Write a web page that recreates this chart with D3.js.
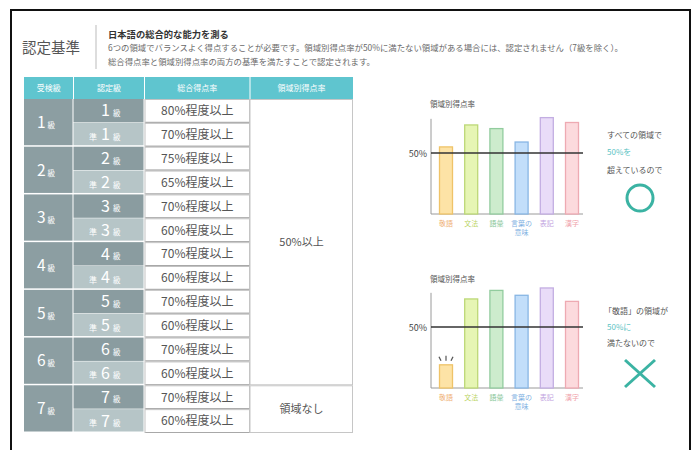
<!DOCTYPE html>
<html><head><meta charset="utf-8">
<script src="https://cdn.jsdelivr.net/npm/d3@7"></script>
<style>body{margin:0;background:#fff;} svg{display:block;font-family:"Noto Sans CJK JP","Noto Sans",sans-serif;}</style>
</head><body><svg id="c" width="698" height="450"></svg>
<script>
// ---- data ----
const headerLabels = ["受検級", "認定級", "総合得点率", "領域別得点率"];
const examGrades = ["1", "2", "3", "4", "5", "6", "7"];
const certPrefixes = ["", "準", "", "準", "", "準", "", "準", "", "準", "", "準", "", "準"];
const certNumbers = ["1", "1", "2", "2", "3", "3", "4", "4", "5", "5", "6", "6", "7", "7"];
const totalRates = ["80%程度以上", "70%程度以上", "75%程度以上", "65%程度以上", "70%程度以上", "60%程度以上",
  "70%程度以上", "60%程度以上", "70%程度以上", "60%程度以上", "70%程度以上", "60%程度以上", "70%程度以上", "60%程度以上"];
const domainRates = ["50%以上", "領域なし"];
const domainRateSpans = [[0, 12], [12, 14]];
const domains = ["敬語", "文法", "語彙", "言葉の意味", "表記", "漢字"];
const passScores = [55, 73, 70, 59, 79, 75];
const failScores = [19, 73, 80, 76, 82, 71];
const threshold = 50;

const svg = d3.select("#c");

// outer frame
svg.append("path").attr("d", "M11,452 V10 H690 V452").attr("fill", "none").attr("stroke", "#111").attr("stroke-width", 2);

// heading
svg.append("text").attr("x", 22).attr("y", 53).attr("font-size", 14.5).attr("fill", "#555").text("認定基準");
svg.append("line").attr("x1", 96).attr("x2", 96).attr("y1", 25).attr("y2", 69).attr("stroke", "#bbb").attr("stroke-width", 1);
svg.append("text").attr("x", 108).attr("y", 37.5).attr("font-size", 9.3).attr("font-weight", "bold").attr("fill", "#333").text("日本語の総合的な能力を測る");
svg.append("text").attr("x", 108).attr("y", 50.5).attr("font-size", 8.4).attr("fill", "#6a6a6a")
  .text("6つの領域でバランスよく得点することが必要です。領域別得点率が50%に満たない領域がある場合には、認定されません（7級を除く）。");
svg.append("text").attr("x", 108).attr("y", 65).attr("font-size", 8.4).attr("fill", "#6a6a6a")
  .text("総合得点率と領域別得点率の両方の基準を満たすことで認定されます。");

// ---- table ----
const colX = [24, 73.5, 144.5, 250, 353];
const rowY = d3.scaleBand().domain(d3.range(certNumbers.length)).range([99, 433]);
const rh = rowY.bandwidth();
const tbl = svg.append("g");

// header
tbl.append("rect").attr("x", colX[0]).attr("y", 77).attr("width", colX[4] - colX[0]).attr("height", 22).attr("fill", "#5fc5cf");
headerLabels.forEach((h, i) => {
  if (i > 0) tbl.append("line").attr("x1", colX[i]).attr("x2", colX[i]).attr("y1", 77).attr("y2", 99).attr("stroke", "#fff").attr("stroke-width", 1);
  tbl.append("text").attr("x", (colX[i] + colX[i + 1]) / 2).attr("y", 91).attr("text-anchor", "middle")
    .attr("font-size", 8).attr("fill", "#fff").text(h);
});

// exam grade column
examGrades.forEach((g, i) => {
  const y0 = rowY(i * 2), y1 = rowY(i * 2 + 1) + rh;
  tbl.append("rect").attr("x", colX[0]).attr("y", y0).attr("width", colX[1] - colX[0] - 1).attr("height", y1 - y0 - 1.5).attr("fill", "#8c9ea2");
  const t = tbl.append("text").attr("x", 46).attr("y", (y0 + y1) / 2 + 5).attr("text-anchor", "middle").attr("fill", "#fff");
  t.append("tspan").attr("font-size", 15.5).text(g);
  t.append("tspan").attr("font-size", 7.5).attr("dx", 2).text("級");
});

// cert level column
certNumbers.forEach((n, i) => {
  const y0 = rowY(i);
  const pre = certPrefixes[i];
  tbl.append("rect").attr("x", colX[1]).attr("y", y0).attr("width", colX[2] - colX[1] - 1).attr("height", rh - (pre ? 1.5 : 0.5))
    .attr("fill", pre ? "#b6c5c7" : "#8a9ca0");
  const cy = y0 + rh / 2 + 5.5;
  if (pre) tbl.append("text").attr("x", 97).attr("y", cy - 0.5).attr("text-anchor", "end").attr("font-size", 8).attr("fill", "#fff").text(pre);
  tbl.append("text").attr("x", 110).attr("y", cy).attr("text-anchor", "end").attr("font-size", 16).attr("fill", "#fff").text(n);
  tbl.append("text").attr("x", 113).attr("y", cy - 0.5).attr("font-size", 7.5).attr("fill", "#fff").text("級");
});

// total score column
totalRates.forEach((r, i) => {
  const y0 = rowY(i);
  tbl.append("rect").attr("x", colX[2] + 0.5).attr("y", y0 + 0.5).attr("width", colX[3] - colX[2] - 1).attr("height", rh - 1)
    .attr("fill", "#fff").attr("stroke", "#c2c2c2").attr("stroke-width", 1);
  tbl.append("line").attr("x1", colX[2] + 1).attr("x2", colX[3] - 0.5).attr("y1", y0 + rh - 0.5).attr("y2", y0 + rh - 0.5)
    .attr("stroke", "#a8a8a8").attr("stroke-width", 1);
  tbl.append("text").attr("x", (colX[2] + colX[3]) / 2).attr("y", y0 + rh / 2 + 4.3).attr("text-anchor", "middle")
    .attr("font-size", 12).attr("fill", "#555").text(r);
});

// domain score column
domainRates.forEach((d, i) => {
  const [a, b] = domainRateSpans[i];
  const y0 = rowY(a), y1 = rowY(b - 1) + rh;
  tbl.append("rect").attr("x", colX[3]).attr("y", y0 + 0.5).attr("width", colX[4] - colX[3] - 0.5).attr("height", y1 - y0 - 1)
    .attr("fill", "#fff").attr("stroke", "#c6c6c6").attr("stroke-width", 1);
  tbl.append("text").attr("x", (colX[3] + colX[4]) / 2).attr("y", (y0 + y1) / 2 + 4).attr("text-anchor", "middle")
    .attr("font-size", 11).attr("fill", "#555").text(d);
});

// ---- bar charts ----
const fills = ["#fde3a6", "#e6f5b4", "#cdeccd", "#c2defa", "#e9dcf8", "#fcdadd"];
const strokes = ["#efc368", "#bcd877", "#92cc9e", "#88b6e4", "#c3aee2", "#eeaab2"];
const labelColors = ["#efb276", "#bcd568", "#86c596", "#7fb1e2", "#c1a3e0", "#f0a2aa"];
const x = d3.scalePoint().domain(domains).range([446, 572]);
const barW = 13;

function drawChart(baseY, values, titleY, failIdx) {
  const g = svg.append("g");
  const y = d3.scaleLinear().domain([0, 50]).range([baseY, baseY - 61]);
  g.append("text").attr("x", 430).attr("y", titleY).attr("font-size", 7.5).attr("fill", "#555").text("領域別得点率");
  g.append("line").attr("x1", 431).attr("x2", 431).attr("y1", y(78)).attr("y2", y(0)).attr("stroke", "#9a9a9a").attr("stroke-width", 1);
  g.append("line").attr("x1", 431).attr("x2", 583).attr("y1", y(0)).attr("y2", y(0)).attr("stroke", "#9a9a9a").attr("stroke-width", 1);
  g.selectAll(".bar").data(values).join("rect")
    .attr("x", (d, i) => x(domains[i]) - barW / 2).attr("y", d => y(d))
    .attr("width", barW).attr("height", d => y(0) - y(d))
    .attr("fill", (d, i) => fills[i]).attr("stroke", (d, i) => strokes[i]).attr("stroke-width", 1.3);
  g.append("line").attr("x1", 431).attr("x2", 583).attr("y1", y(threshold)).attr("y2", y(threshold)).attr("stroke", "#333").attr("stroke-width", 1.3);
  g.append("text").attr("x", 427).attr("y", y(threshold) + 3.5).attr("text-anchor", "end").attr("font-size", 9).attr("fill", "#444").text(threshold + "%");
  domains.forEach((d, i) => {
    const lines = d.length > 2 ? [d.slice(0, 3), d.slice(3)] : [d];
    lines.forEach((ln, k) =>
      g.append("text").attr("x", x(d)).attr("y", y(0) + 11.5 + k * 9.5).attr("text-anchor", "middle")
        .attr("font-size", 7).attr("fill", labelColors[i]).text(ln));
  });
  if (failIdx != null) {
    const cx = x(domains[failIdx]), top = y(values[failIdx]);
    [[-7, -8, -5, -4], [0, -9, 0, -4], [7, -8, 5, -4]].forEach(([a, b, c, e]) =>
      g.append("line").attr("x1", cx + a).attr("y1", top + b).attr("x2", cx + c).attr("y2", top + e)
        .attr("stroke", "#555").attr("stroke-width", 1.2));
  }
  return g;
}
drawChart(214, passScores, 107, null);
drawChart(388, failScores, 282, 0);

// verdicts
const teal = "#5cc3c4", mark = "#3bb3a3";
const v1 = svg.append("g").attr("font-size", 8).attr("fill", "#555");
v1.append("text").attr("x", 607).attr("y", 138).text("すべての領域で");
v1.append("text").attr("x", 607).attr("y", 155).attr("fill", teal).text("50%を");
v1.append("text").attr("x", 607).attr("y", 173).text("超えているので");
svg.append("circle").attr("cx", 640).attr("cy", 198).attr("r", 13).attr("fill", "none").attr("stroke", mark).attr("stroke-width", 3);

const v2 = svg.append("g").attr("font-size", 8).attr("fill", "#555");
v2.append("text").attr("x", 604).attr("y", 314).text("「敬語」の領域が");
v2.append("text").attr("x", 607).attr("y", 330).attr("fill", teal).text("50%に");
v2.append("text").attr("x", 607).attr("y", 346).text("満たないので");
svg.append("line").attr("x1", 625).attr("y1", 360).attr("x2", 655).attr("y2", 387).attr("stroke", mark).attr("stroke-width", 3);
svg.append("line").attr("x1", 655).attr("y1", 360).attr("x2", 625).attr("y2", 387).attr("stroke", mark).attr("stroke-width", 3);
</script></body></html>
